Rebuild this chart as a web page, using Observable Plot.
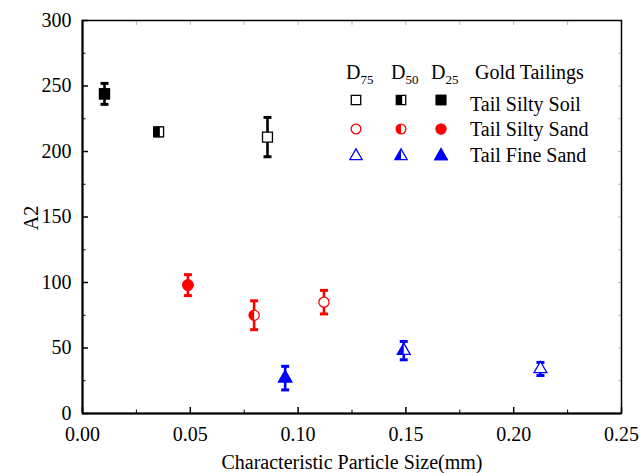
<!DOCTYPE html>
<html>
<head>
<meta charset="utf-8">
<script src="https://cdn.jsdelivr.net/npm/d3@7"></script>
<script src="https://cdn.jsdelivr.net/npm/@observablehq/plot@0.6"></script>
<style>
  html, body { margin: 0; padding: 0; background: #fff; }
  #wrap { position: relative; width: 640px; height: 473px; font-family: "Liberation Serif", "Times New Roman", serif; color: #000; }
  #wrap svg { display: block; }
  .abs { position: absolute; white-space: nowrap; font-family: "Liberation Serif", "Times New Roman", serif; font-size: 20px; line-height: 1; }
</style>
</head>
<body>
<div id="wrap"></div>
<script>
// ---- data ----
const categories = ["Tail Silty Soil", "Tail Silty Sand", "Tail Fine Sand"];
const colors = ["#000000", "#ff0000", "#0000ff"];
const levels = ["D75", "D50", "D25"];
// per category: values for [D75, D50, D25]
const soilX = [0.0858, 0.0353, 0.0102];
const soilY = [211, 215, 244];
const soilErr = [15, 3, 8];
const sandX = [0.112, 0.0796, 0.0489];
const sandY = [85, 75, 98];
const sandErr = [9, 11, 8];
const fineX = [0.2124, 0.149, 0.094];
const fineY = [34, 48, 27];
const fineErr = [5, 7, 9];
const xTicks = [0, 0.05, 0.10, 0.15, 0.20, 0.25];
const xMinor = [0.025, 0.075, 0.125, 0.175, 0.225];
const yTicks = [0, 50, 100, 150, 200, 250, 300];
const yMinor = [25, 75, 125, 175, 225, 275];
const xTitle = "Characteristic Particle Size(mm)";
const yTitle = "A2";
const legendTitle = "Gold Tailings";

const seriesX = [soilX, sandX, fineX];
const seriesY = [soilY, sandY, fineY];
const seriesE = [soilErr, sandErr, fineErr];
const rows = [];
categories.forEach((c, i) => levels.forEach((lv, j) => rows.push({
  cat: c, level: lv, color: colors[i],
  x: seriesX[i][j], y: seriesY[i][j], lo: seriesY[i][j] - seriesE[i][j], hi: seriesY[i][j] + seriesE[i][j]
})));

// ---- custom symbols ----
const SQ = Math.sqrt(3);
const halfSquare = { draw(ctx, size) { const s = Math.sqrt(size) / 2; ctx.moveTo(-s, -s); ctx.lineTo(s * 0.25, -s); ctx.lineTo(s * 0.25, s); ctx.lineTo(-s, s); ctx.closePath(); } };
const halfCircle = { draw(ctx, size) { const r = Math.sqrt(size / Math.PI); ctx.moveTo(0, -r); ctx.arc(0, 0, r, -Math.PI / 2, Math.PI / 2, true); ctx.closePath(); } };
const halfTriangle = { draw(ctx, size) { const y = -Math.sqrt(size / (SQ * 3)); ctx.moveTo(0, 2 * y); ctx.lineTo(SQ * y, -y); ctx.lineTo(0, -y); ctx.closePath(); } };
const capSym = { draw(ctx, size) { const w = Math.sqrt(size); ctx.moveTo(-w / 2, 0); ctx.lineTo(w / 2, 0); } };
const baseSyms = [d3.symbolSquare, d3.symbolCircle, d3.symbolTriangle];
const halfSyms = [halfSquare, halfCircle, halfTriangle];
const radii = [5.6, 5.1, 4.8];

const markerMarks = [];
categories.forEach((c, i) => {
  const d = rows.filter(r => r.cat === c);
  markerMarks.push(Plot.dot(d, {x: "x", y: "y", symbol: baseSyms[i], r: radii[i], fill: "white", stroke: colors[i], strokeWidth: 1.3}));
  markerMarks.push(Plot.dot(d.filter(r => r.level === "D50"), {x: "x", y: "y", symbol: halfSyms[i], r: radii[i], fill: colors[i], stroke: "none"}));
  markerMarks.push(Plot.dot(d.filter(r => r.level === "D25"), {x: "x", y: "y", symbol: baseSyms[i], r: radii[i], fill: colors[i], stroke: colors[i], strokeWidth: 1.3}));
});

const blank = () => "";
const chart = Plot.plot({
  width: 640, height: 473,
  marginLeft: 82, marginRight: 19, marginTop: 20, marginBottom: 60,
  style: {fontFamily: "'Liberation Serif', 'Times New Roman', serif", fontSize: "20px", color: "#000", background: "#fff", overflow: "visible"},
  x: {domain: [0, 0.25]},
  y: {domain: [0, 300]},
  color: {type: "identity"},
  marks: [
    Plot.axisX({ticks: xTicks, tickSize: 0, tickPadding: 13, tickFormat: d3.format(".2f"), label: null, fontSize: 20}),
    Plot.axisX({ticks: xTicks, tickSize: -6, tickFormat: blank, label: null, strokeWidth: 1.5}),
    Plot.axisX({ticks: xMinor, tickSize: -3.5, tickFormat: blank, label: null}),
    Plot.axisX({anchor: "top", ticks: xTicks.concat(xMinor), tickSize: -4, tickFormat: blank, label: null, stroke: "#bbb"}),
    Plot.axisY({ticks: yTicks, tickSize: 0, tickPadding: 11, label: null, fontSize: 20}),
    Plot.axisY({ticks: yTicks, tickSize: -6, tickFormat: blank, label: null, strokeWidth: 1.5}),
    Plot.axisY({ticks: yMinor, tickSize: -3.5, tickFormat: blank, label: null}),
    Plot.axisY({anchor: "right", ticks: yTicks.concat(yMinor), tickSize: -4, tickFormat: blank, label: null, stroke: "#bbb"}),
    Plot.frame({stroke: "#000", strokeWidth: 1.5}),
    Plot.ruleX([0], {stroke: "#000", strokeWidth: 2}),
    Plot.ruleY([0], {stroke: "#000", strokeWidth: 2}),
    Plot.ruleX(rows, {x: "x", y1: "lo", y2: "hi", stroke: "color", strokeWidth: 2.6}),
    Plot.dot(rows, {x: "x", y: "lo", symbol: capSym, r: 4.5, stroke: "color", strokeWidth: 3, fill: "none"}),
    Plot.dot(rows, {x: "x", y: "hi", symbol: capSym, r: 4.5, stroke: "color", strokeWidth: 3, fill: "none"}),
    ...markerMarks
  ]
});

const wrap = document.getElementById("wrap");
wrap.appendChild(chart);

// ---- titles ----
const xt = document.createElement("div");
xt.className = "abs"; xt.textContent = xTitle;
xt.style.left = "352px"; xt.style.top = "452px"; xt.style.transform = "translateX(-50%)";
wrap.appendChild(xt);
const yt = document.createElement("div");
yt.className = "abs"; yt.textContent = yTitle;
yt.style.left = "31px"; yt.style.top = "218px"; yt.style.transform = "translate(-50%,-50%) rotate(-90deg)";
wrap.appendChild(yt);

// ---- legend ----
const colX = [356, 401, 441];
const rowY = [100, 129, 156];
const rowBase = [110, 135, 161];
levels.forEach((lv, j) => {
  const h = document.createElement("div");
  h.className = "abs";
  h.innerHTML = lv[0] + '<sub style="font-size:13px;vertical-align:-5px">' + lv.slice(1) + '</sub>';
  h.style.left = (colX[j] - 10) + "px"; h.style.top = "62px";
  wrap.appendChild(h);
});
const lt = document.createElement("div");
lt.className = "abs"; lt.textContent = legendTitle;
lt.style.left = "475px"; lt.style.top = "62px";
wrap.appendChild(lt);

const lsvg = d3.select(wrap).append("svg")
  .attr("width", 640).attr("height", 473)
  .style("position", "absolute").style("left", "0px").style("top", "0px").style("pointer-events", "none");
categories.forEach((c, i) => {
  const size = Math.PI * radii[i] * radii[i] * 0.9;
  const base = d3.symbol(baseSyms[i], size)();
  const half = d3.symbol(halfSyms[i], size)();
  levels.forEach((lv, j) => {
    const g = lsvg.append("g").attr("transform", `translate(${colX[j]},${rowY[i]})`);
    g.append("path").attr("d", base).attr("fill", "#fff").attr("stroke", colors[i]).attr("stroke-width", 1.3);
    if (lv === "D50") g.append("path").attr("d", half).attr("fill", colors[i]);
    if (lv === "D25") g.append("path").attr("d", base).attr("fill", colors[i]).attr("stroke", colors[i]).attr("stroke-width", 1.3);
  });
  const t = document.createElement("div");
  t.className = "abs"; t.textContent = c;
  t.style.left = "470px"; t.style.top = (rowBase[i] - 16.5) + "px";
  wrap.appendChild(t);
});
</script>
</body>
</html>
